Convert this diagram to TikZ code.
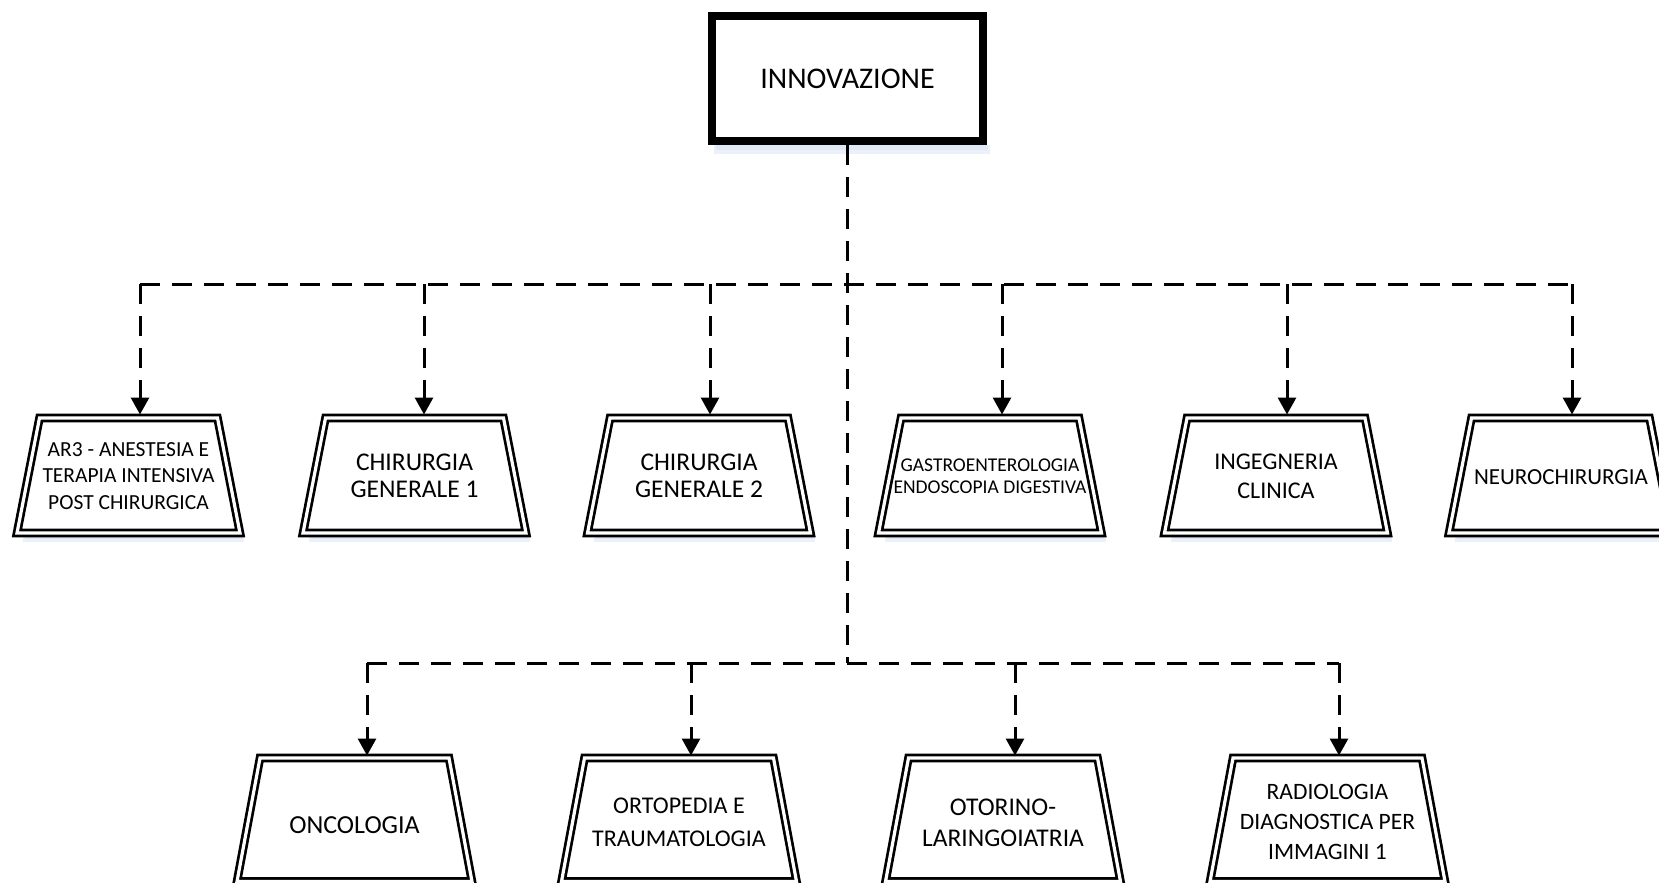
\documentclass[tikz,border=0pt]{standalone}
\usepackage{fontspec}
\setmainfont{Carlito}
\usetikzlibrary{arrows.meta,calc}
\definecolor{glow}{HTML}{C9D9EE}
\newcommand{\fsz}[2]{\fontsize{#1pt}{#2pt}\selectfont}
% cx, top y, bottom y, half top width, half bottom width
\newcommand{\trapdraw}[5]{%
  \fill[glow,opacity=0.35] ({#1-#5+6},#3+2) rectangle ({#1+#5+4},#3+9);
  \fill[glow,opacity=0.35] ({#1-#5+8},#3+2) rectangle ({#1+#5+2},#3+6);
  \draw[trapline] ({#1-#4},#2) -- ({#1+#4},#2) -- ({#1+#5},#3) -- ({#1-#5},#3) -- cycle;}
\begin{document}
\begin{tikzpicture}[x=1pt,y=-1pt,
  conn/.style={line width=3pt, dash pattern=on 20pt off 12pt},
  arr/.style={conn, -{Triangle[length=17pt 0 0,width=18pt 0 0]}},
  trapline/.style={draw=black, line width=2.7pt, double=white, double distance=3.2pt, line join=miter},
  lbl/.style={align=center, inner sep=0pt, text=black},
  topbox/.style={draw=black, line width=8pt, minimum width=271pt, minimum height=125pt, inner sep=0pt, font=\fsz{30}{36}}]
\clip (0,0) rectangle (1659,883);
\fill[white] (0,0) rectangle (1659,883);

% faint glow under top node
\fill[glow,opacity=0.35] (714,145) rectangle (990,154);
\fill[glow,opacity=0.35] (716,145) rectangle (988,150);

% top node
\node[topbox] (inn) at (847.5,78.5) {INNOVAZIONE};

% junctions
\coordinate (j1) at (847.5,284);
\coordinate (j2) at (847.5,663);

% arrow targets row 1
\coordinate (t1) at (140,414.5);
\coordinate (t2) at (424,414.5);
\coordinate (t3) at (710,414.5);
\coordinate (t4) at (1002,414.5);
\coordinate (t5) at (1287,414.5);
\coordinate (t6) at (1572,414.5);
% arrow targets row 2
\coordinate (b1) at (367,755.5);
\coordinate (b2) at (691,755.5);
\coordinate (b3) at (1015,755.5);
\coordinate (b4) at (1339,755.5);

% row 1 shapes
\trapdraw{128.5}{418}{533}{89}{111.5}
\trapdraw{414.5}{418}{533}{89}{111.5}
\trapdraw{699}{418}{533}{89}{111.5}
\trapdraw{990}{418}{533}{89}{111.5}
\trapdraw{1276}{418}{533}{89}{111.5}
\trapdraw{1560.5}{418}{533}{89}{111.5}

\node[lbl,font=\fsz{21.5}{26.5}] (ar3) at (128.5,476) {AR3 - ANESTESIA E\\TERAPIA INTENSIVA\\POST CHIRURGICA};
\node[lbl,font=\fsz{25.5}{27.5}] (cg1) at (414.5,476) {CHIRURGIA\\GENERALE 1};
\node[lbl,font=\fsz{25.5}{27.5}] (cg2) at (699,476) {CHIRURGIA\\GENERALE 2};
\node[lbl,font=\fsz{19.5}{22}] (gas) at (990,476) {GASTROENTEROLOGIA\\ENDOSCOPIA DIGESTIVA};
\node[lbl,font=\fsz{24}{29}] (ing) at (1276,476) {INGEGNERIA\\CLINICA};
\node[lbl,font=\fsz{23}{28}] (neu) at (1561,477) {NEUROCHIRURGIA};

% row 2 shapes
\trapdraw{354.5}{758}{881.5}{94.5}{117.5}
\trapdraw{679}{758}{881.5}{94.5}{117.5}
\trapdraw{1003}{758}{881.5}{94.5}{117.5}
\trapdraw{1327.5}{758}{881.5}{94.5}{117.5}

\node[lbl,font=\fsz{26}{30}] (onc) at (354.5,825) {ONCOLOGIA};
\node[lbl,font=\fsz{24}{33}] (ort) at (679,822) {ORTOPEDIA E\\TRAUMATOLOGIA};
\node[lbl,font=\fsz{25.5}{31}] (oto) at (1003,823) {OTORINO-\\LARINGOIATRIA};
\node[lbl,font=\fsz{23.5}{30}] (rad) at (1327.5,822) {RADIOLOGIA\\DIAGNOSTICA PER\\IMMAGINI 1};

% connectors
\draw[conn] (inn.south) -- (j2);
\draw[conn] (t1 |- j1) -- (t6 |- j1);
\foreach \t in {t1,t2,t3,t4,t5,t6} \draw[arr] (\t |- j1) -- (\t);
\draw[conn] (b1 |- j2) -- (b4 |- j2);
\foreach \b in {b1,b2,b3,b4} \draw[arr] (\b |- j2) -- (\b);
\end{tikzpicture}
\end{document}
